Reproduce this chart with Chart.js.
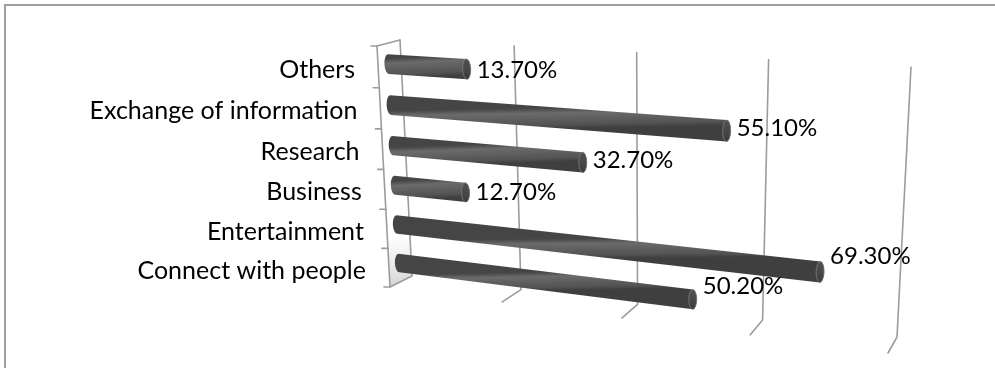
<!DOCTYPE html>
<html>
<head>
<meta charset="utf-8">
<script src="https://cdn.jsdelivr.net/npm/chart.js@4/dist/chart.umd.min.js"></script>
<style>
  html, body { margin: 0; padding: 0; background: #ffffff; }
  #wrap { width: 995px; height: 368px; position: relative; }
</style>
</head>
<body>
<div id="wrap"><canvas id="chart" width="995" height="368"></canvas></div>
<script>
// Reasons for using social media (share of respondents, %)
const categories = ['Others', 'Exchange of information', 'Research', 'Business', 'Entertainment', 'Connect with people'];
const shares = [13.7, 55.1, 32.7, 12.7, 69.3, 50.2];
const axisMin = 0;
const axisMax = 80;
const axisStep = 20;

// ---- 3-D look: the back wall quad (screen corners for the flat plot's
// top-left, top-right, bottom-right, bottom-left) and the depth vector
// that brings a point from the back wall to the front of the floor.
const BACK_QUAD = [[400, 40], [911, 67], [897, 337], [412, 276]];
const DEPTH = { tl: [-23, 6], tr: [-10, 11], br: [-9, 16], bl: [-22, 11] };
const BAR_DEPTH = 0.55;
const LINE_COLOR = '#9c9c9c';
const CATEGORY_FONT = '25px Lato, "Open Sans", sans-serif';
const VALUE_FONT = '24px Lato, "Open Sans", sans-serif';

function quadMapper(q) {
  const [x0, y0] = q[0], [x1, y1] = q[1], [x2, y2] = q[2], [x3, y3] = q[3];
  const dx1 = x1 - x2, dx2 = x3 - x2, dx3 = x0 - x1 + x2 - x3;
  const dy1 = y1 - y2, dy2 = y3 - y2, dy3 = y0 - y1 + y2 - y3;
  const den = dx1 * dy2 - dx2 * dy1;
  const g = (dx3 * dy2 - dx2 * dy3) / den;
  const h = (dx1 * dy3 - dx3 * dy1) / den;
  const a = x1 - x0 + g * x1, b = x3 - x0 + h * x3, c = x0;
  const d = y1 - y0 + g * y1, e = y3 - y0 + h * y3, f = y0;
  return (s, t) => {
    const w = g * s + h * t + 1;
    return [(a * s + b * t + c) / w, (d * s + e * t + f) / w];
  };
}
const backWall = quadMapper(BACK_QUAD);

function depthAt(s, t) {
  const top = [DEPTH.tl[0] + (DEPTH.tr[0] - DEPTH.tl[0]) * s, DEPTH.tl[1] + (DEPTH.tr[1] - DEPTH.tl[1]) * s];
  const bot = [DEPTH.bl[0] + (DEPTH.br[0] - DEPTH.bl[0]) * s, DEPTH.bl[1] + (DEPTH.br[1] - DEPTH.bl[1]) * s];
  return [top[0] + (bot[0] - top[0]) * t, top[1] + (bot[1] - top[1]) * t];
}
// s: along the value axis (0..1), t: down the category axis (0..1), z: 0 back .. 1 front
function project(s, t, z) {
  const p = backWall(s, t);
  const dv = depthAt(s, t);
  return [p[0] + z * dv[0], p[1] + z * dv[1]];
}

function polyline(ctx, pts) {
  ctx.beginPath();
  pts.forEach((p, i) => (i ? ctx.lineTo(p[0], p[1]) : ctx.moveTo(p[0], p[1])));
  ctx.stroke();
}
function sampleLine(fn, n) {
  const pts = [];
  for (let i = 0; i <= n; i++) pts.push(fn(i / n));
  return pts;
}

function drawCylinder(ctx, a, b, c, d, rx) {
  // a: start-top, b: end-top, c: end-bottom, d: start-bottom
  const endC = [(b[0] + c[0]) / 2, (b[1] + c[1]) / 2];
  const startC = [(a[0] + d[0]) / 2, (a[1] + d[1]) / 2];
  const endRy = Math.hypot(c[0] - b[0], c[1] - b[1]) / 2;
  const startRy = Math.hypot(d[0] - a[0], d[1] - a[1]) / 2;
  const endRot = Math.atan2(c[1] - b[1], c[0] - b[0]) - Math.PI / 2;
  const startRot = Math.atan2(d[1] - a[1], d[0] - a[0]) - Math.PI / 2;

  const midTop = [(a[0] + b[0]) / 2, (a[1] + b[1]) / 2];
  const midBot = [(c[0] + d[0]) / 2, (c[1] + d[1]) / 2];
  const grad = ctx.createLinearGradient(midTop[0], midTop[1], midBot[0], midBot[1]);
  grad.addColorStop(0, '#454545');
  grad.addColorStop(0.25, '#6b6b6b');
  grad.addColorStop(0.5, '#606060');
  grad.addColorStop(0.82, '#535353');
  grad.addColorStop(1, '#3f3f3f');

  ctx.beginPath();
  ctx.moveTo(a[0], a[1]);
  ctx.lineTo(b[0], b[1]);
  ctx.ellipse(endC[0], endC[1], rx, endRy, endRot, -Math.PI / 2, Math.PI / 2, false);
  ctx.lineTo(d[0], d[1]);
  ctx.ellipse(startC[0], startC[1], rx, startRy, startRot, Math.PI / 2, Math.PI * 1.5, false);
  ctx.closePath();
  ctx.fillStyle = grad;
  ctx.fill();

  // end face of the cylinder
  const capGrad = ctx.createLinearGradient(b[0], b[1], c[0], c[1]);
  capGrad.addColorStop(0, '#505050');
  capGrad.addColorStop(0.5, '#484848');
  capGrad.addColorStop(1, '#3a3a3a');
  ctx.beginPath();
  ctx.ellipse(endC[0], endC[1], rx, endRy, endRot, 0, Math.PI * 2);
  ctx.fillStyle = capGrad;
  ctx.fill();
  ctx.lineWidth = 1;
  ctx.strokeStyle = 'rgba(125,125,125,0.8)';
  ctx.stroke();
}

const perspectivePlugin = {
  id: 'perspectiveBars',
  beforeDraw(chart) {
    const ctx = chart.ctx;
    ctx.save();
    ctx.fillStyle = '#ffffff';
    ctx.fillRect(0, 0, chart.width, chart.height);
    ctx.strokeStyle = '#9f9f9f';
    ctx.lineWidth = 2;
    ctx.beginPath();
    ctx.moveTo(5, chart.height);
    ctx.lineTo(5, 5);
    ctx.lineTo(chart.width, 5);
    ctx.stroke();
    ctx.restore();
  },
  beforeDatasetsDraw(chart) {
    const ctx = chart.ctx;
    const area = chart.chartArea;
    const xs = chart.scales.x, ys = chart.scales.y;
    const S = (px) => (px - area.left) / (area.right - area.left);
    const T = (py) => (py - area.top) / (area.bottom - area.top);
    const n = chart.data.labels.length;
    const band = n > 1 ? ys.getPixelForValue(1) - ys.getPixelForValue(0) : (area.bottom - area.top);

    ctx.save();
    ctx.lineCap = 'round';
    ctx.lineJoin = 'round';

    // soft shade at the foot of the side wall
    const w1 = project(0, 0.78, 1), w2 = project(0, 0.78, 0), w3 = project(0, 1, 0), w4 = project(0, 1, 1);
    const shade = ctx.createLinearGradient(0, w1[1], 0, w4[1]);
    shade.addColorStop(0, 'rgba(0,0,0,0)');
    shade.addColorStop(1, 'rgba(0,0,0,0.16)');
    ctx.beginPath();
    ctx.moveTo(w1[0], w1[1]); ctx.lineTo(w2[0], w2[1]); ctx.lineTo(w3[0], w3[1]); ctx.lineTo(w4[0], w4[1]);
    ctx.closePath();
    ctx.fillStyle = shade;
    ctx.fill();

    ctx.strokeStyle = LINE_COLOR;
    ctx.lineWidth = 1.6;

    // side wall: front edge and top edge
    polyline(ctx, sampleLine((u) => project(0, u, 1), 24));
    polyline(ctx, [project(0, 0, 1), project(0, 0, 0)]);

    // category ticks on the front edge
    for (let i = 0; i <= n; i++) {
      const py = (i < n ? ys.getPixelForValue(i) : ys.getPixelForValue(n - 1) + band) - band / 2;
      const p = project(0, T(py), 1);
      polyline(ctx, [[p[0] - 6, p[1]], p]);
    }

    // value gridlines: up the back wall, then across the floor
    const tickValues = (xs.ticks && xs.ticks.length) ? xs.ticks.map((tk) => tk.value) : [];
    tickValues.forEach((v) => {
      const s = S(xs.getPixelForValue(v));
      const pts = sampleLine((u) => project(s, u, 0), 24);
      pts.push(project(s, 1, 1));
      polyline(ctx, pts);
    });

    // bars as cylinders
    const meta = chart.getDatasetMeta(0);
    const ds = chart.data.datasets[0];
    meta.data.forEach((el, i) => {
      const p = el.getProps(['x', 'y', 'base', 'height'], true);
      const s0 = S(p.base), s1 = S(p.x);
      const tTop = T(p.y - p.height / 2), tBot = T(p.y + p.height / 2), tc = T(p.y);
      const a = project(s0, tTop, BAR_DEPTH), b = project(s1, tTop, BAR_DEPTH);
      const c = project(s1, tBot, BAR_DEPTH), d = project(s0, tBot, BAR_DEPTH);
      drawCylinder(ctx, a, b, c, d, 4);

      // value label beside the end of the bar
      const end = project(s1, tc, BAR_DEPTH);
      ctx.font = VALUE_FONT;
      ctx.fillStyle = '#000000';
      ctx.textAlign = 'left';
      ctx.textBaseline = 'middle';
      ctx.fillText(ds.data[i].toFixed(2) + '%', end[0] + 10, end[1] + 2 - 27 * s1 * tc);
    });

    // category labels to the left of the side wall
    chart.data.labels.forEach((lab, i) => {
      const p = project(0, T(ys.getPixelForValue(i)), 1);
      ctx.font = CATEGORY_FONT;
      ctx.fillStyle = '#000000';
      ctx.textAlign = 'right';
      ctx.textBaseline = 'middle';
      ctx.fillText(lab, p[0] - 23, p[1] + 3);
    });

    ctx.restore();
    return false;
  }
};

new Chart(document.getElementById('chart'), {
  type: 'bar',
  data: {
    labels: categories,
    datasets: [{
      label: 'Share',
      data: shares,
      backgroundColor: '#595959',
      barPercentage: 0.48,
      categoryPercentage: 1
    }]
  },
  options: {
    indexAxis: 'y',
    responsive: false,
    animation: false,
    events: [],
    layout: { padding: { left: 400, right: 84, top: 40, bottom: 92 } },
    plugins: { legend: { display: false }, tooltip: { enabled: false }, title: { display: false } },
    scales: {
      x: { display: false, min: axisMin, max: axisMax, ticks: { stepSize: axisStep } },
      y: { display: false }
    }
  },
  plugins: [perspectivePlugin]
});
</script>
</body>
</html>
